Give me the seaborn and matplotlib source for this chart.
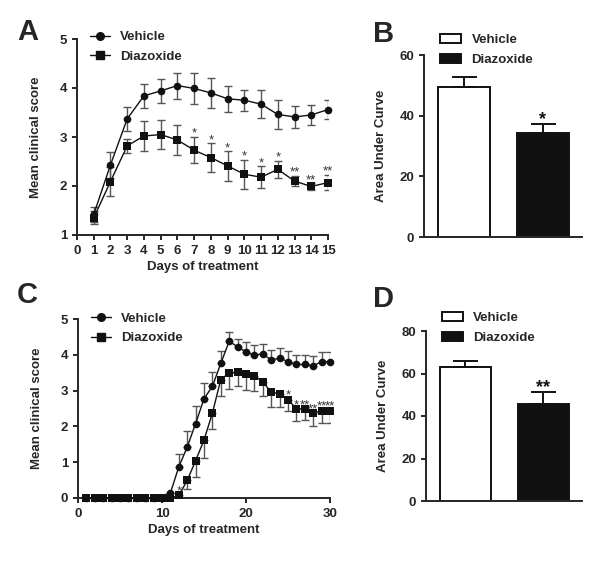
import numpy as np
import pandas as pd
import matplotlib
matplotlib.use('Agg')
import matplotlib.pyplot as plt
import seaborn as sns
from matplotlib.lines import Line2D
from matplotlib.patches import Patch

# ---- Panel A: first study, days 1-15 ----
days_a = list(range(1, 16))
vehicle_a = [1.42, 2.43, 3.37, 3.84, 3.94, 4.05, 3.99, 3.90, 3.78, 3.75, 3.67, 3.46, 3.41, 3.45, 3.56]
vehicle_a_err = [0.15, 0.26, 0.25, 0.245, 0.245, 0.265, 0.31, 0.31, 0.27, 0.21, 0.29, 0.30, 0.22, 0.21, 0.20]
diazoxide_a = [1.35, 2.09, 2.82, 3.02, 3.05, 2.94, 2.73, 2.58, 2.41, 2.24, 2.18, 2.34, 2.10, 1.99, 2.07]
diazoxide_a_err = [0.13, 0.30, 0.14, 0.31, 0.30, 0.31, 0.27, 0.29, 0.30, 0.30, 0.22, 0.18, 0.11, 0.07, 0.16]
stars_a = ['', '', '', '', '', '', '*', '*', '*', '*', '*', '*', '**', '**', '**']

# ---- Panel B: AUC for A ----
groups = ['Vehicle', 'Diazoxide']
auc_b = [49.5, 34.4]
auc_b_err = [3.4, 2.8]
stars_b = ['', '*']

# ---- Panel C: second study, days 1-30 ----
days_c = list(range(1, 31))
vehicle_c = [0, 0, 0, 0, 0, 0, 0, 0, 0, 0, 0.14, 0.87, 1.42, 2.08, 2.77, 3.12, 3.76, 4.38, 4.22, 4.08,
             3.99, 4.03, 3.85, 3.91, 3.81, 3.73, 3.73, 3.69, 3.81, 3.81]
vehicle_c_err = [0, 0, 0, 0, 0, 0, 0, 0, 0, 0, 0.0, 0.35, 0.45, 0.48, 0.44, 0.39, 0.35, 0.26, 0.23, 0.27,
                 0.27, 0.27, 0.28, 0.27, 0.29, 0.27, 0.27, 0.29, 0.26, 0.26]
diazoxide_c = [0, 0, 0, 0, 0, 0, 0, 0, 0, 0, 0, 0.07, 0.49, 1.04, 1.62, 2.37, 3.31, 3.49, 3.52, 3.45,
               3.41, 3.25, 2.95, 2.91, 2.75, 2.49, 2.49, 2.37, 2.44, 2.44]
diazoxide_c_err = [0, 0, 0, 0, 0, 0, 0, 0, 0, 0, 0, 0.05, 0.23, 0.46, 0.50, 0.44, 0.47, 0.45, 0.40, 0.43,
                   0.41, 0.41, 0.41, 0.38, 0.33, 0.33, 0.30, 0.37, 0.35, 0.34]
stars_c = [''] * 11 + ['*'] + [''] * 12 + ['*', '*', '**', '**', '**', '**']

# ---- Panel D: AUC for C ----
auc_d = [63.2, 45.6]
auc_d_err = [2.7, 5.5]
stars_d = ['', '**']

sns.set_style('ticks')
plt.rcParams['font.family'] = ['Liberation Sans', 'DejaVu Sans']
plt.rcParams['font.weight'] = 'bold'
plt.rcParams['axes.labelweight'] = 'bold'
plt.rcParams['axes.linewidth'] = 1.4
plt.rcParams['xtick.major.width'] = 1.4
plt.rcParams['ytick.major.width'] = 1.4
plt.rcParams['xtick.major.size'] = 3.5
plt.rcParams['ytick.major.size'] = 3.5
plt.rcParams['xtick.labelsize'] = 9.5
plt.rcParams['ytick.labelsize'] = 9.5
plt.rcParams['axes.labelsize'] = 9.5

fig = plt.figure(figsize=(6.0, 5.62), dpi=100)
W, H = 600.0, 562.0


def add_axes(left, top, right, bottom):
    return fig.add_axes([left / W, 1 - bottom / H, (right - left) / W, (bottom - top) / H])


def line_panel(ax, days, veh, veh_err, dia, dia_err, stars, lower_veh, upper_dia, star_off):
    df = pd.DataFrame({
        'day': days * 2,
        'score': veh + dia,
        'group': ['Vehicle'] * len(days) + ['Diazoxide'] * len(days),
    })
    sns.lineplot(data=df, x='day', y='score', hue='group', style='group',
                 markers={'Vehicle': 'o', 'Diazoxide': 's'}, dashes=False,
                 palette={'Vehicle': '#111111', 'Diazoxide': '#111111'},
                 markersize=5.5, linewidth=1.0, markeredgewidth=0,
                 legend=False, ax=ax, clip_on=False, zorder=3)
    veh = np.array(veh)
    dia = np.array(dia)
    ve = np.array(veh_err)
    de = np.array(dia_err)
    ax.errorbar(days, veh, yerr=[ve if lower_veh else np.zeros_like(ve), ve], fmt='none',
                ecolor='#555555', elinewidth=1.0, capsize=3, capthick=1.0, zorder=2)
    ax.errorbar(days, dia, yerr=[de, de if upper_dia else np.zeros_like(de)], fmt='none',
                ecolor='#555555', elinewidth=1.0, capsize=3, capthick=1.0, zorder=2)
    for d, m, e, s in zip(days, dia, de, stars):
        if s:
            top = m + (e if upper_dia else 0) + star_off
            ax.annotate(s, (d, top), xytext=(0, -1), textcoords='offset points',
                        ha='center', va='baseline', fontsize=9.5, fontweight='normal', color='#333333')
    handles = [Line2D([0], [0], color='#111111', marker='o', markersize=5.5, lw=1.0),
               Line2D([0], [0], color='#111111', marker='s', markersize=5.5, lw=1.0)]
    ax.legend(handles, ['Vehicle', 'Diazoxide'], loc='upper left', bbox_to_anchor=(0.02, 1.08),
              frameon=False, fontsize=9.5, handlelength=1.5, handletextpad=0.8,
              labelspacing=0.55, borderaxespad=0.2)
    ax.set_ylabel('Mean clinical score', labelpad=13)
    ax.set_xlabel('Days of treatment', labelpad=3)
    sns.despine(ax=ax)


def bar_panel(ax, vals, errs, stars, ymax, step):
    df = pd.DataFrame({'group': groups, 'auc': vals})
    sns.barplot(data=df, x='group', y='auc', hue='group', palette={'Vehicle': 'white', 'Diazoxide': '#111111'},
                edgecolor='#111111', linewidth=1.4, width=0.66, legend=False, ax=ax)
    ax.errorbar([0, 1], vals, yerr=[np.zeros(2), errs], fmt='none', ecolor='#111111',
                elinewidth=1.4, capsize=9, capthick=1.4)
    for i, (v, e, s) in enumerate(zip(vals, errs, stars)):
        if s:
            ax.annotate(s, (i, v + e), xytext=(0, 0), textcoords='offset points',
                        ha='center', va='baseline', fontsize=13, fontweight='bold', color='#111111')
    ax.set_ylim(0, ymax)
    ax.set_yticks(np.arange(0, ymax + 1, step))
    ax.set_xlim(-0.506, 1.494)
    ax.set_xticks([])
    ax.set_xlabel('')
    ax.set_ylabel('Area Under Curve', labelpad=9)
    handles = [Patch(facecolor='white', edgecolor='#111111', linewidth=1.4),
               Patch(facecolor='#111111', edgecolor='#111111', linewidth=1.4)]
    ax.legend(handles, groups, loc='upper left', bbox_to_anchor=(0.05, 1.16), frameon=False,
              fontsize=9.5, handlelength=1.6, handleheight=0.7, handletextpad=0.8,
              labelspacing=0.6, borderaxespad=0.2)
    sns.despine(ax=ax)


# A
ax_a = add_axes(77, 39, 328, 235)
line_panel(ax_a, days_a, vehicle_a, vehicle_a_err, diazoxide_a, diazoxide_a_err, stars_a,
           lower_veh=True, upper_dia=True, star_off=0.03)
ax_a.set_xlim(0, 15)
ax_a.set_ylim(1, 5)
ax_a.set_xticks(range(0, 16))
ax_a.set_yticks(range(1, 6))

# B
ax_b = add_axes(424, 55, 582, 237)
bar_panel(ax_b, auc_b, auc_b_err, stars_b, 60, 20)

# C
ax_c = add_axes(78, 319, 330, 498)
line_panel(ax_c, days_c, vehicle_c, vehicle_c_err, diazoxide_c, diazoxide_c_err, stars_c,
           lower_veh=False, upper_dia=False, star_off=0.06)
ax_c.set_xlim(0, 30)
ax_c.set_ylim(0, 5)
ax_c.set_xticks([0, 10, 20, 30])
ax_c.set_yticks(range(0, 6))

# D
ax_d = add_axes(426, 331, 582, 501)
bar_panel(ax_d, auc_d, auc_d_err, stars_d, 80, 20)

for lbl, x, y in [('A', 17, 40), ('B', 373, 42), ('C', 17, 303), ('D', 373, 307)]:
    fig.text(x / W, 1 - y / H, lbl, fontsize=21, fontweight='bold', ha='left', va='baseline')

fig.savefig('out.png', dpi=100)
